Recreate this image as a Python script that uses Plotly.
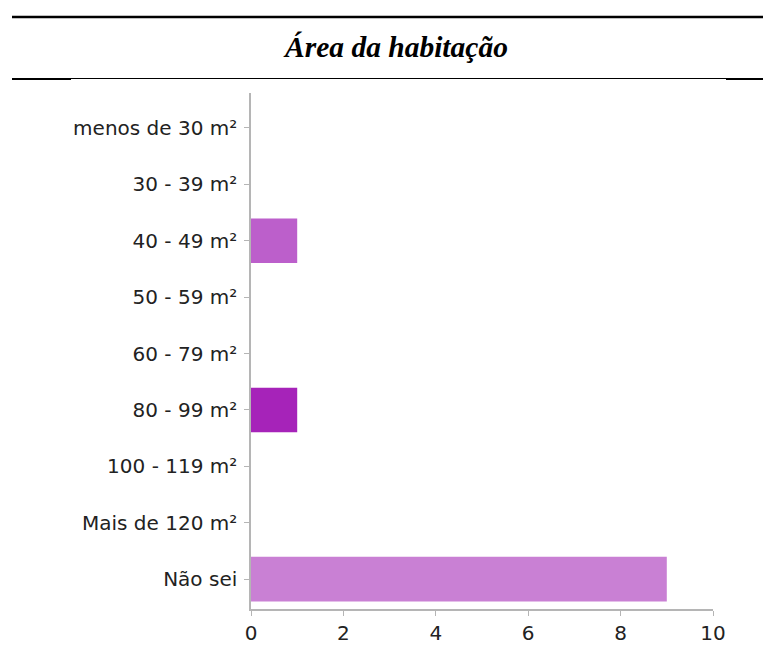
import plotly.graph_objects as go

categories = ["menos de 30 m²", "30 - 39 m²", "40 - 49 m²", "50 - 59 m²", "60 - 79 m²",
              "80 - 99 m²", "100 - 119 m²", "Mais de 120 m²", "Não sei"]
values = [0, 0, 1, 0, 0, 1, 0, 0, 9]
bar_colors = ["#bc5fcb", "#bc5fcb", "#bc5fcb", "#bc5fcb", "#bc5fcb",
              "#a623b9", "#a623b9", "#a623b9", "#c980d4"]
x_ticks = [0, 2, 4, 6, 8, 10]
title_text = "Área da habitação"

# page offset of the plot div (default body margin)
OX, OY = 8, 8
W, H = 771 - OX, 657 - OY
L, R, T, B = 251 - OX, 713 - OX, 93 - OY, 609 - OY


def px(x):
    return (x - OX - L) / (R - L)


def py(y):
    return (B - (y - OY)) / (B - T)


fig = go.Figure(go.Bar(
    x=values, y=categories, orientation="h",
    marker=dict(color=bar_colors, line=dict(width=0)),
    hoverinfo="skip",
))

fig.update_layout(
    width=W, height=H,
    margin=dict(l=L, r=W - R, t=T, b=H - B, pad=0),
    paper_bgcolor="white", plot_bgcolor="white",
    showlegend=False,
    bargap=0.21,
    font=dict(family="DejaVu Sans, Arial, sans-serif", size=20, color="#222222"),
    xaxis=dict(range=[0, 10], tickvals=x_ticks, showgrid=False, zeroline=False,
               showline=True, linecolor="#b5b5b5", linewidth=1.5,
               ticks="outside", ticklen=5, tickcolor="#b5b5b5", tickwidth=1,
               tickfont=dict(size=20, color="#222222"), fixedrange=True),
    yaxis=dict(type="category", categoryorder="array", categoryarray=categories,
               range=[8.53, -0.62], showgrid=False, zeroline=False,
               showline=True, linecolor="#b5b5b5", linewidth=1.5,
               ticks="outside", ticklen=5, tickcolor="#b5b5b5", tickwidth=1,
               ticklabelstandoff=3,
               tickfont=dict(size=20, color="#222222"), fixedrange=True),
    shapes=[
        dict(type="line", xref="paper", yref="paper", x0=px(12), x1=px(780),
             y0=py(17), y1=py(17), line=dict(color="black", width=2.5)),
        dict(type="line", xref="paper", yref="paper", x0=px(71), x1=px(726),
             y0=py(78.5), y1=py(78.5), line=dict(color="black", width=1)),
        dict(type="line", xref="paper", yref="paper", x0=px(12), x1=px(71),
             y0=py(79), y1=py(79), line=dict(color="black", width=2)),
        dict(type="line", xref="paper", yref="paper", x0=px(726), x1=px(780),
             y0=py(79), y1=py(79), line=dict(color="black", width=2)),
    ],
    annotations=[
        dict(text="<b><i>" + title_text + "</i></b>", xref="paper", yref="paper",
             x=px(395.5), y=py(47), xanchor="center", yanchor="middle",
             showarrow=False,
             font=dict(family="Liberation Serif, Times New Roman, serif", size=29.5, color="black")),
    ],
)

fig.write_html("out.html")
